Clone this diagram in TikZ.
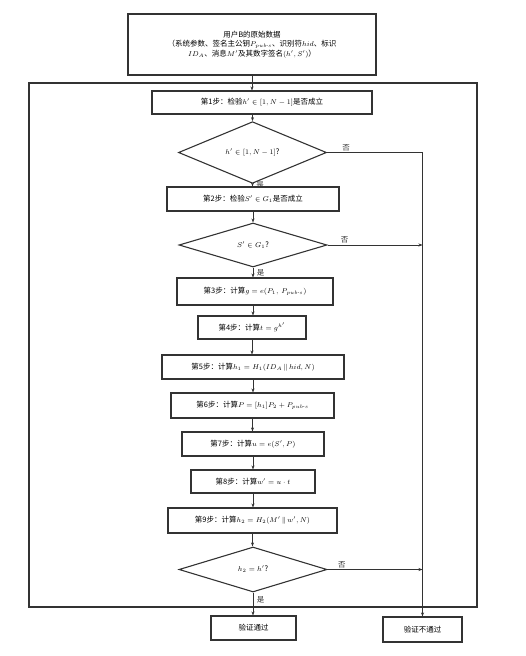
\documentclass[tikz,border=0pt]{standalone}
\usepackage{amsmath,amssymb}
\usepackage{fontspec}
\setmainfont{Noto Sans CJK SC}
\usepackage{tikz}
\usetikzlibrary{arrows.meta,shapes.geometric,calc}
\tikzset{
  stepbox/.style = {rectangle, draw=black!80, line width=1.1pt, inner sep=1pt,
                    align=center, font=\fontsize{7.5}{9.5}\selectfont},
  check/.style   = {diamond, draw=black!80, line width=1.1pt, inner sep=0pt,
                    align=center, font=\fontsize{7.5}{9}\selectfont,
                    minimum width=148pt},
  arr/.style     = {-{Stealth[length=4pt,width=3pt]}, line width=0.5pt, black!80},
  lbl/.style     = {font=\fontsize{7.5}{9}\selectfont, inner sep=1.5pt},
  yes/.style     = {lbl, right, xshift=3pt, inner sep=0.5pt},
}
\newcommand{\Ppub}{P_{pub\text{-}s}}

\begin{document}
\begin{tikzpicture}[x=1pt,y=-1pt]
  \useasboundingbox (0,0) rectangle (526,656);
  % outer frame
  \draw[line width=1.1pt, black!80] (29,83) rectangle (477,607);

  \node[stepbox, minimum width=248pt, minimum height=61pt] (src) at (252,44.5)
    {用户B的原始数据\\（系统参数、签名主公钥$\Ppub$、识别符$hid$、标识\\$ID_A$、消息$M'$及其数字签名$(h',S')$）};
  \node[stepbox, minimum width=220pt, minimum height=23pt] (s1) at (262,102.5)
    {第1步：检验$h'\in[1,N-1]$是否成立};
  \node[check, minimum height=49pt] (d1) at (252.5,152.5) {$h'\in[1,N-1]$?};
  \node[stepbox, minimum width=172pt, minimum height=24pt] (s2) at (253,199)
    {第2步：检验$S'\in G_1$是否成立};
  \node[check, minimum height=44pt] (d2) at (253,245) {$S'\in G_1$?};
  \node[stepbox, minimum width=156pt, minimum height=27pt] (s3) at (255,291.5)
    {第3步：计算$g=e(P_1,\ \Ppub)$};
  \node[stepbox, minimum width=108pt, minimum height=23pt] (s4) at (252,327.5)
    {第4步：计算$t=g^{h'}$};
  \node[stepbox, minimum width=182pt, minimum height=24pt] (s5) at (253,367)
    {第5步：计算$h_1=H_1(ID_A\,\|\,hid,N)$};
  \node[stepbox, minimum width=163pt, minimum height=25pt] (s6) at (252.5,405.5)
    {第6步：计算$P=[h_1]P_2+\Ppub$};
  \node[stepbox, minimum width=142pt, minimum height=24pt] (s7) at (253,444)
    {第7步：计算$u=e(S',P)$};
  \node[stepbox, minimum width=124pt, minimum height=23pt] (s8) at (253,481.5)
    {第8步：计算$w'=u\cdot t$};
  \node[stepbox, minimum width=169pt, minimum height=25pt] (s9) at (252.5,520.5)
    {第9步：计算$h_2=H_2(M'\,\|\,w',N)$};
  \node[check, minimum height=45pt] (d3) at (253,569.5) {$h_2=h'$?};
  \node[stepbox, minimum width=85pt, minimum height=24pt] (ok) at (253.5,628) {验证通过};
  \node[stepbox, minimum width=79pt, minimum height=25pt] (fail) at (422.5,629.5) {验证不通过};
  \coordinate (jn) at (fail.north |- d1.east);

  \draw[arr] (src.south) -- (src.south |- s1.north);
  \draw[arr] (d1.north |- s1.south) -- (d1.north);
  \draw[arr] (d1.south) -- node[yes,pos=0.45]{是} (d1.south |- s2.north);
  \draw[arr] (s2.south) -- (d2.north);
  \draw[arr] (d2.south) -- node[yes,pos=0.5]{是} (d2.south |- s3.north);
  \draw[arr] (d2.south |- s3.south) -- (d2.south |- s4.north);
  \draw[arr] (s4.south) -- (s4.south |- s5.north);
  \draw[arr] (s5.south) -- (s5.south |- s6.north);
  \draw[arr] (s6.south) -- (s6.south |- s7.north);
  \draw[arr] (s7.south) -- (s8.north);
  \draw[arr] (s8.south) -- (s8.south |- s9.north);
  \draw[arr] (s9.south) -- (s9.south |- d3.north);
  \draw[arr] (d3.south) -- node[yes,pos=0.3]{是} (d3.south |- ok.north);
  \draw[arr] (d1.east) -- node[lbl,above,pos=0.2]{否} (jn) -- (fail.north);
  \draw[arr] (d2.east) -- node[lbl,above,pos=0.18]{否} (jn |- d2.east);
  \draw[arr] (d3.east) -- node[lbl,above,pos=0.15]{否} (jn |- d3.east);
\end{tikzpicture}
\end{document}
